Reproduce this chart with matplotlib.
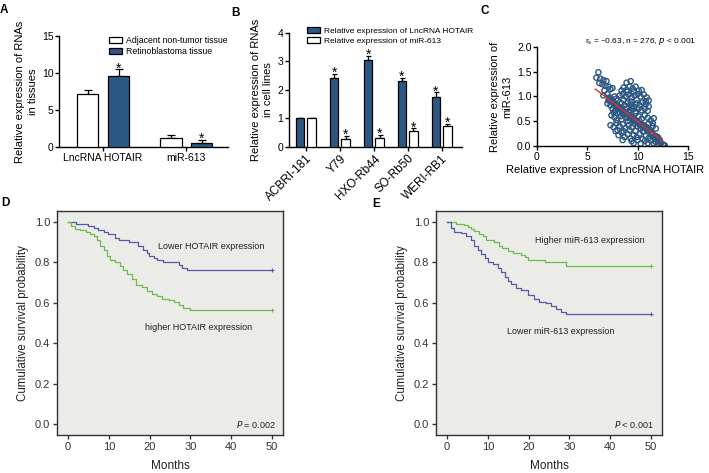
import numpy as np
import matplotlib.pyplot as plt

plt.rcParams['font.family'] = ['Liberation Sans', 'DejaVu Sans']

# ---- panel A: tissues ----
tissue_groups = ["LncRNA HOTAIR", "miR-613"]
adjacent_vals = [7.2, 1.2]
adjacent_err = [0.5, 0.4]
tumor_vals = [9.6, 0.6]
tumor_err = [0.9, 0.35]

# ---- panel B: cell lines ----
cell_lines = ["ACBRI-181", "Y79", "HXO-Rb44", "SO-Rb50", "WERI-RB1"]
hotair_vals = [1.0, 2.42, 3.05, 2.30, 1.75]
hotair_err = [0.02, 0.15, 0.15, 0.12, 0.17]
mir_vals = [1.0, 0.27, 0.33, 0.55, 0.73]
mir_err = [0.02, 0.12, 0.10, 0.10, 0.07]

# ---- panel C: correlation ----
scatter_x = [5.9, 6.1, 6.3, 6.6, 6.9, 8.9, 9.3,
             6.2, 6.5, 6.8, 7.1, 7.3, 6.7, 7.5, 8.6, 8.9, 9.2, 9.5, 9.8, 10.1, 9.0, 9.6, 10.4, 8.4,
             6.6, 7.0, 7.2, 7.4, 7.7, 7.9, 8.2, 8.5, 8.8, 9.1, 9.4, 9.7, 10.0, 10.3, 10.6, 10.9, 11.1,
             10.8, 9.9, 8.0, 7.1, 8.6, 9.3,
             7.0, 7.3, 7.6, 7.9, 8.1, 8.4, 8.7, 9.0, 9.3, 9.6, 9.9, 10.2, 10.5, 10.8, 11.1, 7.5, 7.8,
             8.2, 8.5, 8.9, 9.2, 9.5, 9.8, 10.1, 10.4, 10.7, 11.0, 8.0, 9.4,
             7.4, 7.7, 8.0, 8.3, 8.6, 8.9, 9.2, 9.5, 9.8, 10.1, 10.4, 10.7, 11.0, 11.3, 11.6, 7.9,
             8.4, 9.0, 9.6, 10.2, 8.2, 9.1, 7.6, 11.5,
             7.3, 7.6, 7.9, 8.2, 8.5, 8.8, 9.1, 9.4, 9.7, 10.0, 10.3, 10.6, 10.9, 11.2, 11.5, 11.8,
             8.0, 8.6, 9.2, 9.8, 10.5, 11.1, 7.8,
             8.1, 8.4, 8.7, 9.0, 9.3, 9.6, 9.9, 10.2, 10.5, 10.8, 11.1, 11.4, 11.7, 12.0, 12.2, 9.4,
             10.0, 10.7, 11.3, 8.5,
             9.6, 10.3, 11.0, 11.6, 12.0, 12.3, 12.5, 12.7, 11.8, 12.6,
             7.5, 7.7, 8.0, 8.3, 8.5, 8.8, 9.0, 9.3, 9.5, 9.8, 10.0, 10.3, 10.5, 10.8, 11.0, 11.3,
             11.5, 11.8, 12.0, 12.2, 7.2, 7.8, 8.6, 9.1, 9.7, 10.2, 10.9, 11.4, 8.3, 9.4, 10.6, 11.9]
scatter_y = [1.38, 1.49, 1.36, 1.33, 1.31, 1.28, 1.31,
             1.27, 1.25, 1.22, 1.20, 1.15, 1.12, 1.17, 1.18, 1.13, 1.20, 1.16, 1.20, 1.12, 1.10, 1.10, 1.13, 1.12,
             1.02, 1.05, 0.98, 0.95, 1.00, 0.96, 1.02, 1.05, 1.00, 1.04, 0.98, 1.02, 1.05, 1.00, 1.04, 0.98, 0.92,
             0.90, 0.93, 0.92, 0.92, 0.93, 0.90,
             0.86, 0.82, 0.88, 0.84, 0.80, 0.86, 0.82, 0.88, 0.84, 0.80, 0.86, 0.82, 0.88, 0.84, 0.80, 0.75, 0.72,
             0.74, 0.70, 0.76, 0.72, 0.74, 0.70, 0.76, 0.72, 0.75, 0.71, 0.78, 0.78,
             0.62, 0.58, 0.66, 0.60, 0.64, 0.56, 0.62, 0.58, 0.66, 0.60, 0.55, 0.62, 0.57, 0.52, 0.56, 0.52,
             0.54, 0.50, 0.52, 0.50, 0.68, 0.68, 0.68, 0.46,
             0.42, 0.38, 0.46, 0.40, 0.44, 0.36, 0.42, 0.38, 0.45, 0.40, 0.35, 0.42, 0.38, 0.33, 0.40, 0.35,
             0.32, 0.30, 0.32, 0.30, 0.30, 0.45, 0.30,
             0.22, 0.27, 0.18, 0.24, 0.15, 0.22, 0.18, 0.25, 0.14, 0.20, 0.16, 0.22, 0.14, 0.18, 0.12, 0.10,
             0.12, 0.10, 0.11, 0.12,
             0.06, 0.05, 0.06, 0.05, 0.04, 0.05, 0.03, 0.01, 0.08, 0.02,
             0.88, 0.84, 0.80, 0.76, 0.72, 0.68, 0.64, 0.60, 0.56, 0.52, 0.48, 0.44, 0.40, 0.36, 0.32, 0.28,
             0.24, 0.20, 0.15, 0.10, 0.94, 0.82, 0.66, 0.58, 0.50, 0.43, 0.34, 0.26, 0.78, 0.54, 0.38, 0.16]
fit_x = [5.8, 12.5]
fit_y = [1.15, 0.10]

# ---- panel D: KM by HOTAIR ----
d_low_t = [0, 2.0, 4.8, 6.3, 7.4, 8.7, 9.7, 11.6, 12.6, 14.9, 17.1, 18.4, 19.4, 19.9, 21.0, 21.8, 23.2,
           27.3, 27.9, 29.2, 50]
d_low_s = [1.0, 0.99, 0.98, 0.97, 0.96, 0.95, 0.94, 0.92, 0.91, 0.90, 0.88, 0.86, 0.845, 0.83, 0.82,
           0.81, 0.80, 0.785, 0.77, 0.76, 0.76]
d_high_t = [0, 0.7, 1.6, 3.0, 4.5, 5.5, 6.3, 7.1, 7.9, 8.7, 9.6, 10.4, 11.6, 12.7, 13.6, 14.5, 15.7,
            16.7, 18.1, 19.4, 20.6, 21.8, 23.0, 24.7, 25.9, 27.1, 28.3, 30.0, 50]
d_high_s = [1.0, 0.98, 0.965, 0.96, 0.95, 0.94, 0.93, 0.91, 0.88, 0.86, 0.83, 0.81, 0.80, 0.78, 0.76,
            0.74, 0.72, 0.69, 0.68, 0.66, 0.645, 0.635, 0.62, 0.615, 0.605, 0.59, 0.575, 0.565, 0.565]

# ---- panel E: KM by miR-613 ----
e_high_t = [0, 2.2, 4.2, 5.1, 5.9, 6.7, 7.9, 8.7, 9.6, 11.6, 12.8, 13.6, 14.9, 16.1, 18.1, 19.0, 19.8,
            23.9, 29.2, 50]
e_high_s = [1.0, 0.99, 0.985, 0.975, 0.965, 0.955, 0.94, 0.93, 0.91, 0.90, 0.88, 0.87, 0.855, 0.845,
            0.835, 0.825, 0.81, 0.80, 0.78, 0.78]
e_low_t = [0, 1.0, 1.8, 3.4, 4.7, 5.9, 6.7, 7.5, 8.3, 9.2, 10.0, 11.2, 12.4, 13.2, 14.1, 14.9, 15.7,
           16.9, 18.1, 19.8, 21.4, 22.6, 24.3, 25.5, 26.7, 27.9, 29.2, 50]
e_low_s = [1.0, 0.97, 0.95, 0.945, 0.93, 0.91, 0.88, 0.86, 0.84, 0.82, 0.80, 0.79, 0.77, 0.75, 0.73,
           0.71, 0.695, 0.675, 0.665, 0.64, 0.62, 0.605, 0.60, 0.585, 0.57, 0.555, 0.545, 0.545]

navy = '#2c5782'
km_blue = '#5858a8'
km_green = '#6abd4f'
km_bg = '#ebebe7'

W, H = 709, 473
fig = plt.figure(figsize=(W / 100, H / 100), dpi=100)


def px_axes(l, t, r, b):
    return fig.add_axes([l / W, 1 - b / H, (r - l) / W, (b - t) / H])


def fig_pt(x, y):
    return (x / W, 1 - y / H)


def prism_style(ax):
    for s in ['top', 'right']:
        ax.spines[s].set_visible(False)
    for s in ['left', 'bottom']:
        ax.spines[s].set_linewidth(1.0)
    ax.tick_params(direction='out', length=3, width=1.0, labelsize=7.5, pad=1)


def star(ax, x, top):
    ax.annotate('*', xy=(x, top), xytext=(0, -2.2), textcoords='offset points',
                ha='center', va='baseline', fontsize=10)


# A
ax = px_axes(59, 36, 228, 147)
xa = np.arange(len(tissue_groups))
ax.bar(xa - 0.185, adjacent_vals, 0.255, color='white', edgecolor='black', linewidth=0.9,
       label='Adjacent non-tumor tissue', zorder=3)
ax.bar(xa + 0.185, tumor_vals, 0.255, color=navy, edgecolor='black', linewidth=0.9,
       label='Retinoblastoma tissue', zorder=3)
ax.errorbar(xa - 0.185, adjacent_vals, yerr=[np.zeros(2), adjacent_err], fmt='none', ecolor='black',
            elinewidth=0.9, capsize=3, capthick=0.9, zorder=2)
ax.errorbar(xa + 0.185, tumor_vals, yerr=[np.zeros(2), tumor_err], fmt='none', ecolor='black',
            elinewidth=0.9, capsize=3, capthick=0.9, zorder=2)
for i in range(2):
    star(ax, xa[i] + 0.185, tumor_vals[i] + tumor_err[i])
ax.set_xlim(-0.53, 1.5)
ax.set_ylim(0, 15)
ax.set_yticks([0, 5, 10, 15])
ax.set_xticks(xa)
ax.set_xticklabels(tissue_groups)
prism_style(ax)
ax.set_ylabel('Relative expression of RNAs\nin tissues', fontsize=8, labelpad=3, linespacing=1.3)
ax.legend(loc='upper left', bbox_to_anchor=fig_pt(109, 36), bbox_transform=fig.transFigure,
          frameon=False, fontsize=6.3, handlelength=1.5, handleheight=0.75, handletextpad=0.4,
          labelspacing=0.25, borderaxespad=0, borderpad=0)

# B
ax = px_axes(289, 33, 462, 147)
xb = np.arange(len(cell_lines))
ax.bar(xb - 0.17, hotair_vals, 0.25, color=navy, edgecolor='black', linewidth=0.9,
       label='Relative expression of LncRNA HOTAIR', zorder=3)
ax.bar(xb + 0.17, mir_vals, 0.25, color='white', edgecolor='black', linewidth=0.9,
       label='Relative expression of miR-613', zorder=3)
ax.errorbar(xb - 0.17, hotair_vals, yerr=[np.zeros(5), hotair_err], fmt='none', ecolor='black',
            elinewidth=0.9, capsize=1.8, capthick=0.9, zorder=2)
ax.errorbar(xb + 0.17, mir_vals, yerr=[np.zeros(5), mir_err], fmt='none', ecolor='black',
            elinewidth=0.9, capsize=1.8, capthick=0.9, zorder=2)
for i in range(1, 5):
    star(ax, xb[i] - 0.17, hotair_vals[i] + hotair_err[i])
    star(ax, xb[i] + 0.17, mir_vals[i] + mir_err[i])
ax.set_xlim(-0.5, 4.6)
ax.set_ylim(0, 4)
ax.set_yticks([0, 1, 2, 3, 4])
ax.set_xticks(xb)
ax.set_xticklabels(cell_lines, rotation=45, ha='right', rotation_mode='anchor')
prism_style(ax)
ax.tick_params(axis='x', labelsize=8.5)
ax.set_ylabel('Relative expression of RNAs\nin cell lines', fontsize=8, labelpad=3, linespacing=1.3)
ax.legend(loc='upper left', bbox_to_anchor=fig_pt(307, 27), bbox_transform=fig.transFigure,
          frameon=False, fontsize=6, handlelength=1.6, handleheight=0.75, handletextpad=0.4,
          labelspacing=0.25, borderaxespad=0, borderpad=0)

# C
ax = px_axes(537, 47, 688, 146)
ax.scatter(scatter_x, scatter_y, s=14, facecolors='none', edgecolors=navy, linewidths=1.0, zorder=2)
ax.plot(fit_x, fit_y, color='#e0302c', lw=1.0, zorder=3)
ax.set_xlim(0, 15)
ax.set_ylim(0, 2.0)
ax.set_xticks([0, 5, 10, 15])
ax.set_yticks([0, 0.5, 1.0, 1.5, 2.0])
ax.set_yticklabels(['0.0', '0.5', '1.0', '1.5', '2.0'])
prism_style(ax)
ax.text(1.05, 1.06, r'r$_\mathregular{s}$ = –0.63, n = 276, $\it{p}$ < 0.001', transform=ax.transAxes,
        ha='right', va='center', fontsize=6)
ax.set_ylabel('Relative expression of\nmiR-613', fontsize=8, labelpad=3, linespacing=1.3)
ax.set_xlabel('Relative expression of LncRNA HOTAIR', fontsize=8)
ax.xaxis.set_label_coords((605 - 537) / 151, -0.19)


def km_axes(ax):
    ax.set_facecolor(km_bg)
    for s in ax.spines.values():
        s.set_linewidth(1.0)
        s.set_color('#333333')
    ax.set_xlim(-2.7, 52.7)
    ax.set_ylim(-0.054, 1.054)
    ax.set_xticks(np.arange(0, 51, 10))
    ax.set_yticks(np.arange(0, 1.01, 0.2))
    ax.set_yticklabels(['0.0', '0.2', '0.4', '0.6', '0.8', '1.0'])
    ax.tick_params(direction='out', length=3, width=1.0, labelsize=8, colors='#333333', pad=2)
    ax.set_ylabel('Cumulative survival probability', fontsize=8.3, labelpad=4, color='#222222')
    ax.set_xlabel('Months', fontsize=8.5, labelpad=6, color='#222222')


# D
ax = px_axes(57, 211, 283, 435)
ax.step(d_low_t, d_low_s, where='post', color=km_blue, lw=0.9)
ax.step(d_high_t, d_high_s, where='post', color=km_green, lw=0.9)
ax.plot(d_low_t[-1], d_low_s[-1], '+', color=km_blue, ms=3.5, mew=0.8)
ax.plot(d_high_t[-1], d_high_s[-1], '+', color=km_green, ms=3.5, mew=0.8)
ax.text(35, 0.876, 'Lower HOTAIR expression', ha='center', va='center', fontsize=6.5, color='#222222')
ax.text(31.9, 0.48, 'higher HOTAIR expression', ha='center', va='center', fontsize=6.5, color='#222222')
ax.text(51, 0.0, r'$\it{P}$ = 0.002', ha='right', va='center', fontsize=6.5, color='#222222')
km_axes(ax)

# E
ax = px_axes(436, 211, 662, 435)
ax.step(e_high_t, e_high_s, where='post', color=km_green, lw=0.9)
ax.step(e_low_t, e_low_s, where='post', color=km_blue, lw=0.9)
ax.plot(e_high_t[-1], e_high_s[-1], '+', color=km_green, ms=3.5, mew=0.8)
ax.plot(e_low_t[-1], e_low_s[-1], '+', color=km_blue, ms=3.5, mew=0.8)
ax.text(35, 0.907, 'Higher miR-613 expression', ha='center', va='center', fontsize=6.5, color='#222222')
ax.text(27.9, 0.457, 'Lower miR-613 expression', ha='center', va='center', fontsize=6.5, color='#222222')
ax.text(50.7, 0.0, r'$\it{P}$ < 0.001', ha='right', va='center', fontsize=6.5, color='#222222')
km_axes(ax)

# panel letters
for letter, x, y in [('A', 4, 10), ('B', 236, 13), ('C', 485, 11), ('D', 5, 203), ('E', 376, 204)]:
    fig.text(x / W, 1 - y / H, letter, fontsize=8.5, fontweight='bold', ha='center', va='center')

plt.savefig('out.png', dpi=100)
